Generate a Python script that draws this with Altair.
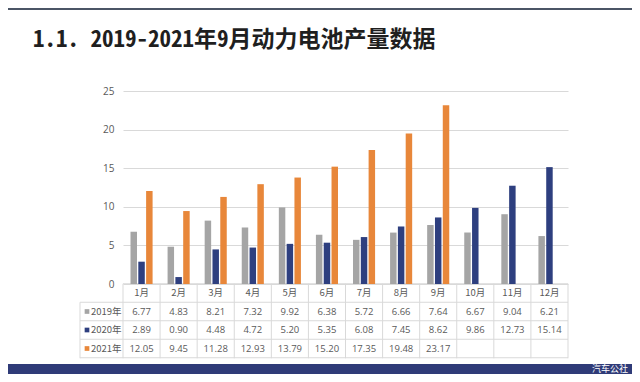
import altair as alt
import pandas as pd

months = ["1月", "2月", "3月", "4月", "5月", "6月", "7月", "8月", "9月", "10月", "11月", "12月"]
years = ["2019年", "2020年", "2021年"]
v2019 = [6.77, 4.83, 8.21, 7.32, 9.92, 6.38, 5.72, 6.66, 7.64, 6.67, 9.04, 6.21]
v2020 = [2.89, 0.90, 4.48, 4.72, 5.20, 5.35, 6.08, 7.45, 8.62, 9.86, 12.73, 15.14]
v2021 = [12.05, 9.45, 11.28, 12.93, 13.79, 15.20, 17.35, 19.48, 23.17]
colors = ["#A5A5A5", "#2E3F7F", "#E8873A"]
title_text = "1.1. 2019-2021年9月动力电池产量数据"
footer_text = "汽车公社"

series = [v2019, v2020, v2021]
recs = []
for yi, (yr, vals) in enumerate(zip(years, series)):
    for i, v in enumerate(vals):
        recs.append({"month": months[i], "year": yr, "value": v,
                     "row": yi + 1, "label": f"{v:.2f}"})
bars_df = pd.DataFrame(recs)
header_df = pd.DataFrame({"month": months, "row": [0] * len(months), "label": months})
rowlab_df = pd.DataFrame({"year": years, "row": [1, 2, 3]})
hlines_df = pd.DataFrame({"b": [0.5, 1.5, 2.5, 3.5]})
top_df = pd.DataFrame({"b": [-0.5]})
vlines_df = pd.DataFrame({"month": months})

W, H = 445, 193
xscale = alt.Scale(domain=months, paddingInner=0, paddingOuter=0)
rowscale = alt.Scale(domain=[0, 3], range=[202, 257.5], nice=False, zero=False)
color_scale = alt.Scale(domain=years, range=colors)
TXT = "#595959"
GRID = "#D9D9D9"
FONT = "Noto Sans CJK SC"

bars = alt.Chart(bars_df).mark_bar().encode(
    x=alt.X("month:N", scale=xscale, sort=months, axis=None),
    xOffset=alt.XOffset("year:N", sort=years,
                        scale=alt.Scale(paddingInner=0.17, paddingOuter=0.96)),
    y=alt.Y("value:Q", scale=alt.Scale(domain=[0, 25], nice=False),
            axis=alt.Axis(values=[0, 5, 10, 15, 20, 25], title=None, domain=False,
                          ticks=False, labelPadding=9, labelColor=TXT, labelFontSize=10,
                          labelFont="Open Sans", grid=True, gridColor=GRID)),
    color=alt.Color("year:N", scale=color_scale, legend=None),
)

cells = alt.Chart(bars_df).mark_text(fontSize=9.5, font="Open Sans", color=TXT).encode(
    x=alt.X("month:N", scale=xscale, sort=months, axis=None),
    y=alt.Y("row:Q", scale=rowscale, axis=None),
    text="label:N",
)

header = alt.Chart(header_df).mark_text(fontSize=9.5, font=FONT, color=TXT).encode(
    x=alt.X("month:N", scale=xscale, sort=months, axis=None),
    y=alt.Y("row:Q", scale=rowscale, axis=None),
    text="label:N",
)

row_sq = alt.Chart(rowlab_df).mark_square(size=22, opacity=1).encode(
    x=alt.value(-36),
    y=alt.Y("row:Q", scale=rowscale, axis=None),
    color=alt.Color("year:N", scale=color_scale, legend=None),
)

row_txt = alt.Chart(rowlab_df).mark_text(fontSize=9.5, font=FONT, color=TXT, align="left").encode(
    x=alt.value(-32),
    y=alt.Y("row:Q", scale=rowscale, axis=None),
    text="year:N",
)

hlines = alt.Chart(hlines_df).mark_rule(color=GRID, strokeWidth=1).encode(
    x=alt.value(-43), x2=alt.value(W),
    y=alt.Y("b:Q", scale=rowscale, axis=None),
)
topline = alt.Chart(top_df).mark_rule(color=GRID, strokeWidth=1).encode(
    x=alt.value(0), x2=alt.value(W),
    y=alt.Y("b:Q", scale=rowscale, axis=None),
)
vlines = alt.Chart(vlines_df).mark_rule(color=GRID, strokeWidth=1).encode(
    x=alt.X("month:N", scale=xscale, sort=months, axis=None, bandPosition=0),
    y=alt.value(192.75), y2=alt.value(267.25),
)
edges = alt.Chart(pd.DataFrame({"e": [0]})).mark_rule(color=GRID, strokeWidth=1).encode(
    x=alt.value(W), y=alt.value(192.75), y2=alt.value(267.25),
)
ledge = alt.Chart(pd.DataFrame({"e": [0]})).mark_rule(color=GRID, strokeWidth=1).encode(
    x=alt.value(-43), y=alt.value(211.25), y2=alt.value(267.25),
)

topbar = alt.Chart(pd.DataFrame({"e": [0]})).mark_rule(color="#4B5566", strokeWidth=2).encode(
    x=alt.value(-115), x2=alt.value(509), y=alt.value(-82),
)
title = alt.Chart(pd.DataFrame({"t": [title_text]})).mark_text(
    color="#1F1F1F", fontSize=23, font="Noto Sans Mono CJK SC, Noto Sans CJK SC",
    fontWeight="bold", align="left", baseline="middle").encode(
    x=alt.value(-90), y=alt.value(-51), text="t:N",
)
banner = alt.Chart(pd.DataFrame({"e": [0]})).mark_rect(color="#2F3B78").encode(
    x=alt.value(-115), x2=alt.value(509), y=alt.value(273), y2=alt.value(283),
)
footer = alt.Chart(pd.DataFrame({"t": [footer_text]})).mark_text(
    color="white", fontSize=9, font=FONT, align="right", baseline="middle").encode(
    x=alt.value(505), y=alt.value(278), text="t:N",
)

chart = alt.layer(
    topbar, title, hlines, topline, vlines, edges, ledge, bars, cells, header, row_sq, row_txt,
    banner, footer
).resolve_scale(y="independent").properties(
    width=W, height=H,
    autosize=alt.AutoSizeParams(type="none"),
    padding={"left": 115, "top": 83, "right": 64, "bottom": 90},
    background="white",
).configure_view(stroke=None)

chart.save("out.html", embed_options={"renderer": "svg", "actions": False})
